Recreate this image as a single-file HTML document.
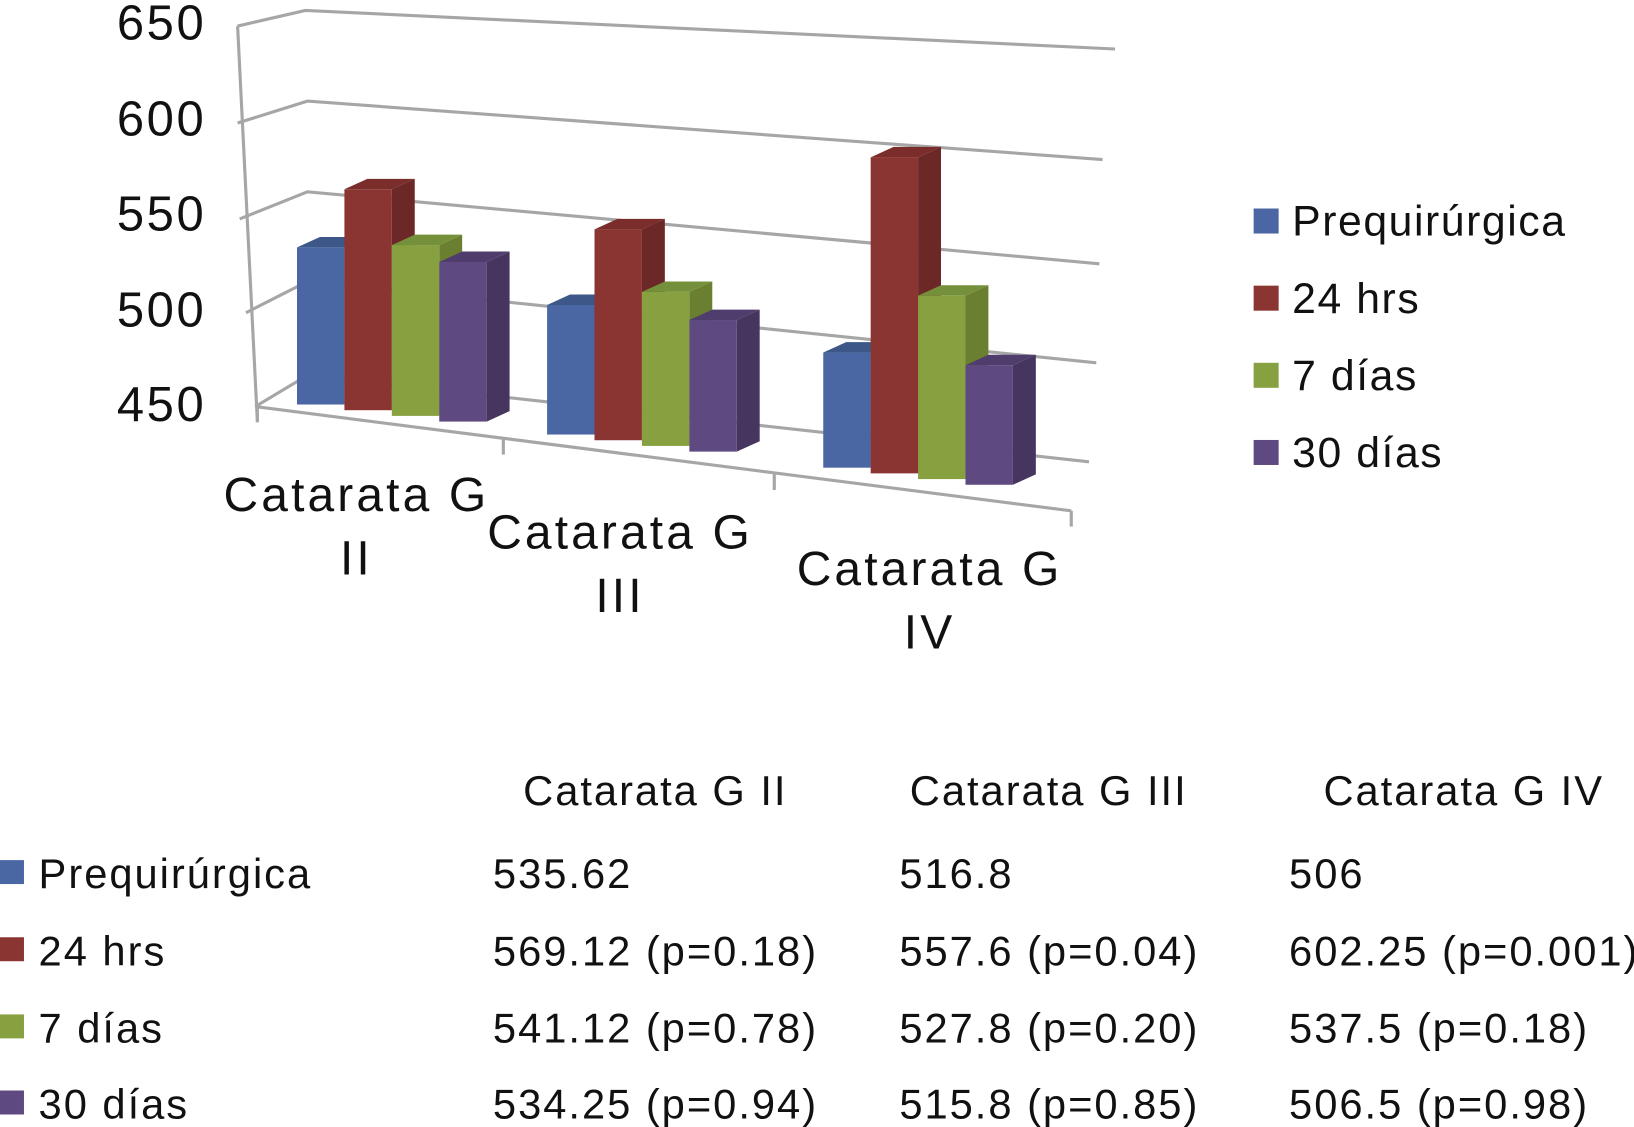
<!DOCTYPE html>
<html><head><meta charset="utf-8"><style>
html,body{margin:0;padding:0;background:#fff;}
svg{display:block;}
text{font-family:"Liberation Sans",Arial,sans-serif;fill:#111;}
</style></head><body>
<svg id="chart" width="1634" height="1127" viewBox="0 0 1568 1081" preserveAspectRatio="none" xmlns="http://www.w3.org/2000/svg">
<g id="grid" stroke="#a6a6a6" stroke-width="3" fill="none">
<polyline points="228,25 293,10 1070,47"/>
<polyline points="228,118 295,97 1058,153"/>
<polyline points="230,210 295,184 1055,253"/>
<polyline points="236,300 295,270 1052,348"/>
<polyline points="245,390 295,360 1045,443"/>
<line x1="228" y1="25" x2="247" y2="405"/>
<line x1="245" y1="390" x2="1028" y2="490"/>
<line x1="247" y1="390" x2="247" y2="405"/>
<line x1="483" y1="420" x2="483" y2="436"/>
<line x1="743" y1="455" x2="743" y2="470"/>
<line x1="1028" y1="490" x2="1028" y2="505"/>
</g>
<g id="yaxis" font-size="47" letter-spacing="2.5" text-anchor="end"></g>
<g id="bars"></g>
<g font-size="46" letter-spacing="3" text-anchor="middle">
<text x="342" y="490">Catarata G</text>
<text x="342" y="551">II</text>
<text x="595" y="526">Catarata G</text>
<text x="595" y="587">III</text>
<text x="892" y="561">Catarata G</text>
<text x="892" y="622">IV</text>
</g>
<g id="legend" font-size="41" letter-spacing="1.5"></g>
<g id="table" font-size="40" letter-spacing="1.9"></g>
</svg>
<script>
const categories=["Catarata G II","Catarata G III","Catarata G IV"];
const seriesNames=["Prequirúrgica","24 hrs","7 días","30 días"];
const prequirurgica=[535.62,516.8,506];
const hrs24=[569.12,557.6,602.25];
const dias7=[541.12,527.8,537.5];
const dias30=[534.25,515.8,506.5];
const pvals24=["0.18","0.04","0.001"];
const pvals7=["0.78","0.20","0.18"];
const pvals30=["0.94","0.85","0.98"];
const yTicks=[650,600,550,500,450];
const series=[prequirurgica,hrs24,dias7,dias30];
const front=["#4a67a3","#8b3532","#87a040","#5e4a80"];
const side=["#37507e","#6c2826","#6a7f30","#46365f"];
const topc=["#3c5788","#7a2d2b","#75903a","#4f3d6d"];
const NS="http://www.w3.org/2000/svg";
function mk(tag,attrs,parent){const e=document.createElementNS(NS,tag);for(const k in attrs)e.setAttribute(k,attrs[k]);parent.appendChild(e);return e;}
const yLabelY={650:38,600:130,550:221,500:313,450:404};
const ya=document.getElementById('yaxis');
yTicks.forEach(v=>{const t=mk('text',{x:198,y:yLabelY[v]},ya);t.textContent=v;

});
const groupX=[285,525,790];
const bw=45.5, dx=22, dy=-10;
function baseY(x){return 388+(x-285)*0.12;}
function scale(x){return 1.76+(x-285)*0.00042;}
function yOf(v,x){return baseY(x)-(v-450)*scale(x);}
const bg=document.getElementById('bars');
categories.forEach((c,i)=>{
 series.forEach((s,j)=>{
  const x=groupX[i]+j*bw;
  const yb=baseY(x), yt=yOf(s[i],x);
  const g=mk('g',{},bg);
  
  
  mk('polygon',{points:`${x+bw},${yb} ${x+bw+dx},${yb+dy} ${x+bw+dx},${yt+dy} ${x+bw},${yt}`,fill:side[j]},g);
  mk('polygon',{points:`${x},${yt} ${x+dx},${yt+dy} ${x+bw+dx},${yt+dy} ${x+bw},${yt}`,fill:topc[j]},g);
  mk('rect',{x:x,y:yt,width:bw,height:yb-yt,fill:front[j]},g);
 });
});
const lg=document.getElementById('legend');
const legY=[212,286,360,434];
seriesNames.forEach((n,j)=>{
 const r=mk('rect',{x:1203,y:legY[j]-12,width:24,height:24,fill:front[j]},lg);
 
 
 const t=mk('text',{x:1240,y:legY[j]+14},lg);t.textContent=n;
 
 
});
const tb=document.getElementById('table');
const colX=[473,863,1237];
const headX=[502,873,1270];
categories.forEach((c,i)=>{const t=mk('text',{x:headX[i],y:772},tb);t.textContent=c;

});
const rowY=[852,926,1000,1073];
const pv=[null,pvals24,pvals7,pvals30];
seriesNames.forEach((n,j)=>{
 const r=mk('rect',{x:0,y:rowY[j]-27,width:23,height:23,fill:front[j]},tb);
 
 
 const t=mk('text',{x:37,y:rowY[j]},tb);t.textContent=n;
 
 
 categories.forEach((c,i)=>{
  const v=mk('text',{x:colX[i],y:rowY[j]},tb);
  v.textContent=series[j][i]+(pv[j]?` (p=${pv[j][i]})`:'');
  
  
 });
});
</script>
</body></html>
